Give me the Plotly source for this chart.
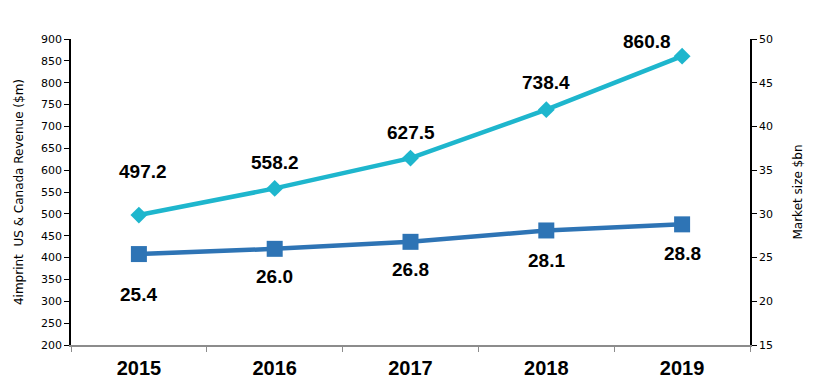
import plotly.graph_objects as go

years = ["2015", "2016", "2017", "2018", "2019"]
revenue = [497.2, 558.2, 627.5, 738.4, 860.8]
market = [25.4, 26.0, 26.8, 28.1, 28.8]
rev_labels = ["497.2", "558.2", "627.5", "738.4", "860.8"]
mkt_labels = ["25.4", "26.0", "26.8", "28.1", "28.8"]

# label offsets (style)
rev_dy = [44, 26, 26, 27, 15]
rev_dx = [4, 0, 0, 0, -35]
mkt_dy = [-40, -28, -28, -30, -29]

CYAN = "#1EB6CD"
BLUE = "#2E74B5"

fig = go.Figure()
fig.add_trace(go.Scatter(x=years, y=revenue, mode="lines+markers",
                         line=dict(color=CYAN, width=4.5),
                         marker=dict(symbol="diamond", size=13, color=CYAN),
                         yaxis="y", showlegend=False))
fig.add_trace(go.Scatter(x=years, y=market, mode="lines+markers",
                         line=dict(color=BLUE, width=4.5),
                         marker=dict(symbol="square", size=16, color=BLUE),
                         yaxis="y2", showlegend=False))

ann = []
lab_font = dict(family="Liberation Sans, Arial", size=19, color="black", weight="bold")
for i in range(len(years)):
    ann.append(dict(x=i, y=revenue[i], xref="x", yref="y", text=rev_labels[i],
                    showarrow=False, yshift=rev_dy[i], xshift=rev_dx[i], font=lab_font))
    ann.append(dict(x=i, y=market[i], xref="x", yref="y2", text=mkt_labels[i],
                    showarrow=False, yshift=mkt_dy[i], font=lab_font))

tick_font = dict(family="DejaVu Sans, Verdana", size=11, color="black")
fig.update_layout(
    width=821, height=390,
    margin=dict(l=63, r=79, t=31, b=53, autoexpand=False),
    paper_bgcolor="white", plot_bgcolor="white",
    annotations=ann,
    xaxis=dict(type="category", range=[-0.5, 4.5], showgrid=False, automargin=False,
               showline=True, linecolor="#8c8c8c", linewidth=2,
               ticks="outside", tickson="boundaries", ticklen=5, tickcolor="#8c8c8c",
               tickfont=dict(family="Liberation Sans, Arial", size=20, color="black", weight="bold"),
               ticklabelstandoff=4, zeroline=False),
    yaxis=dict(range=[200, 900], dtick=50, showgrid=False, zeroline=False, automargin=False,
               showline=True, linecolor="black", linewidth=1.5,
               ticks="outside", ticklen=5, tickcolor="black", tickfont=tick_font,
               title=dict(text="4imprint  US & Canada Revenue ($m)",
                          font=dict(family="DejaVu Sans, Verdana", size=12, color="black"),
                          standoff=15)),
    yaxis2=dict(range=[15, 50], dtick=5, overlaying="y", side="right", automargin=False,
                showgrid=False, zeroline=False,
                showline=True, linecolor="black", linewidth=1.5,
                ticks="outside", ticklen=5, tickcolor="black", tickfont=tick_font,
                title=dict(text="Market size $bn",
                           font=dict(family="DejaVu Sans, Verdana", size=12, color="black"),
                           standoff=22)),
)

fig.write_html("out.html")
